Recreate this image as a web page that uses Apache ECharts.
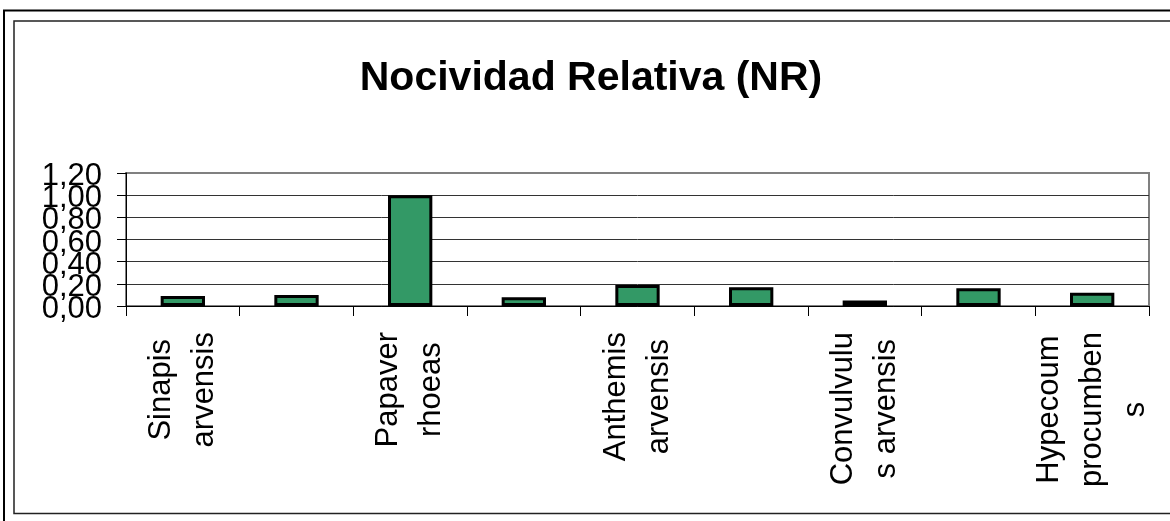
<!DOCTYPE html>
<html>
<head>
<meta charset="utf-8">
<script src="https://cdn.jsdelivr.net/npm/echarts@6/dist/echarts.min.js"></script>
<style>
html,body{margin:0;padding:0;background:#fff;}
#chart{width:1170px;height:521px;}
</style>
</head>
<body>
<div id="chart"></div>
<script>
// Categories (only every other label is legible in the reference)
var categories = ['Sinapis\narvensis', '', 'Papaver\nrhoeas', '', 'Anthemis\narvensis', '', 'Convulvulu\ns arvensis', '', 'Hypecoum\nprocumben\ns'];
var nrValues = [0.09, 0.10, 1.00, 0.08, 0.19, 0.17, 0.05, 0.16, 0.12];
var yTickLabels = ['0,00', '0,20', '0,40', '0,60', '0,80', '1,00', '1,20'];
var titleText = 'Nocividad Relativa (NR)';

var FONT = '"Liberation Sans", Arial, sans-serif';

// The reference's y labels overlap each other; two label layers (even / odd ticks)
// keep ECharts from dropping any of them.
function yLabelLayer(parity) {
  return {
    margin: 24,
    showMinLabel: parity === 0,
    showMaxLabel: parity === 0,
    verticalAlign: 'top',
    lineHeight: 7,
    color: '#000',
    fontFamily: FONT,
    fontSize: 31,
    formatter: function (v) {
      var i = Math.round(v / 0.2);
      return (i % 2 === parity) ? yTickLabels[i] : '';
    }
  };
}

var chart = echarts.init(document.getElementById('chart'));
chart.setOption({
  backgroundColor: '#fff',
  animation: false,
  title: {
    text: titleText,
    left: 591,
    top: 58,
    padding: 0,
    textAlign: 'center',
    textStyle: {fontFamily: FONT, fontWeight: 'bold', fontSize: 41, color: '#000'}
  },
  graphic: [
    {type: 'rect', shape: {x: 4, y: 10.5, width: 1200, height: 540}, style: {fill: null, stroke: '#000', lineWidth: 2}, silent: true},
    {type: 'rect', shape: {x: 14, y: 21, width: 1200, height: 492.5}, style: {fill: null, stroke: '#222', lineWidth: 1.5}, silent: true}
  ],
  grid: {
    left: 126, right: 21, top: 173, bottom: 215,
    show: true, borderColor: '#808080', borderWidth: 2,
    containLabel: false, outerBoundsMode: 'none'
  },
  xAxis: {
    type: 'category',
    data: categories,
    boundaryGap: true,
    axisLine: {lineStyle: {color: '#000', width: 1}},
    axisTick: {show: true, interval: 0, length: 10, lineStyle: {color: '#000'}},
    axisLabel: {
      interval: 0,
      rotate: 90,
      margin: 26,
      color: '#000',
      fontFamily: FONT,
      fontSize: 31,
      lineHeight: 43,
      formatter: function (v) {
        if (!v) return '';
        return v.split('\n').map(function (s) { return '{c|' + s + '}'; }).join('\n');
      },
      rich: {c: {align: 'center', fontFamily: FONT, fontSize: 31, lineHeight: 43, color: '#000'}}
    },
    splitLine: {show: false}
  },
  yAxis: [{
    type: 'value',
    position: 'left',
    min: 0, max: 1.2, interval: 0.2,
    axisLine: {show: true, lineStyle: {color: '#000', width: 1}},
    axisTick: {show: true, length: 9, lineStyle: {color: '#000'}},
    axisLabel: yLabelLayer(0),
    splitLine: {show: true, showMaxLine: false, lineStyle: {color: '#333', width: 1}}
  }, {
    type: 'value',
    position: 'left',
    offset: 0,
    min: 0, max: 1.2, interval: 0.2,
    axisLine: {show: false},
    axisTick: {show: false},
    axisLabel: yLabelLayer(1),
    splitLine: {show: false}
  }],
  series: [{
    type: 'bar',
    yAxisIndex: 0,
    data: nrValues,
    barWidth: '39%',
    itemStyle: {color: '#339966', borderColor: '#000', borderWidth: 3},
    silent: true
  }]
});
</script>
</body>
</html>
